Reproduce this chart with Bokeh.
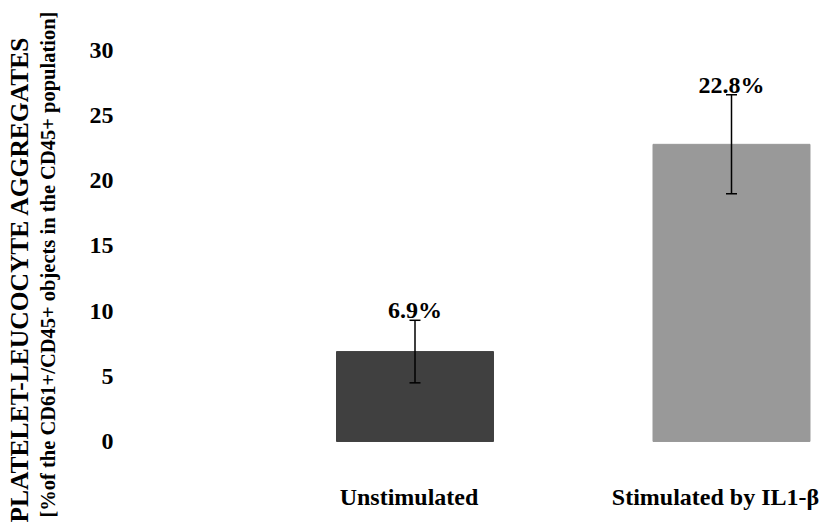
from bokeh.plotting import figure
from bokeh.models import ColumnDataSource, Whisker, TeeHead, FixedTicker, Range1d, Title
from bokeh.core.properties import value
from bokeh.embed import file_html
from bokeh.resources import INLINE

categories = ["Unstimulated", "Stimulated by IL1-\u03b2"]
values = [6.9, 22.8]
errors = [2.4, 3.8]
value_labels = ["6.9%", "22.8%"]
colors = ["#404040", "#999999"]
y_ticks = [0, 5, 10, 15, 20, 25, 30]
title_line1 = "PLATELET-LEUCOCYTE AGGREGATES"
title_line2 = "[%of the CD61+/CD45+ objects in the  CD45+ population]"

FONT = "Liberation Serif"
W, H = 824, 523
L = 125  # frame left
px_per_x = 316.5
x0_px = 414.5
px_per_y = 13.03
y0_px = 441
y30_px = 50

xs = list(range(len(categories)))
src = ColumnDataSource(dict(
    x=xs, top=values, color=colors,
    upper=[v + e for v, e in zip(values, errors)],
    lower=[v - e for v, e in zip(values, errors)],
    lab=value_labels,
))

p = figure(width=W, height=H, output_backend="svg", toolbar_location=None,
           x_range=Range1d((L - x0_px) / px_per_x, (W - x0_px) / px_per_x),
           y_range=Range1d(-(H - y0_px) / px_per_y, 30 + y30_px / px_per_y),
           min_border_left=L, min_border_right=0, min_border_top=0, min_border_bottom=0,
           x_axis_location=None)
p.outline_line_color = None
p.grid.visible = False
p.background_fill_color = "white"
p.border_fill_color = "white"

p.vbar(x="x", top="top", bottom=0, width=0.496, fill_color="color", line_color="color", source=src)

w = Whisker(base="x", upper="upper", lower="lower", source=src, line_color="black", line_width=1.5,
            level="overlay",
            upper_head=TeeHead(size=11, line_width=1.5, line_color="black"),
            lower_head=TeeHead(size=11, line_width=1.5, line_color="black"))
p.add_layout(w)

p.text(x="x", y="upper", text="lab", source=src, text_align="center", text_baseline="alphabetic",
       y_offset=-10, text_font=value(FONT), text_font_style="bold", text_font_size="24px",
       text_color="black")

p.text(x=[xs[0]], y=[0], text=[categories[0]], text_align="center", text_baseline="alphabetic",
       x_offset=-6, y_offset=56, text_font=value(FONT), text_font_style="bold",
       text_font_size="24px", text_color="black")
p.text(x=[xs[1]], y=[0], text=[categories[1]], text_align="center", text_baseline="alphabetic",
       x_offset=-16, y_offset=56, text_font=value(FONT), text_font_style="bold",
       text_font_size="24px", text_color="black")

ax = p.yaxis[0]
ax.ticker = FixedTicker(ticks=y_ticks)
ax.axis_line_color = None
ax.major_tick_line_color = None
ax.minor_tick_line_color = None
ax.major_tick_out = 0
ax.major_tick_in = 0
ax.major_label_standoff = 12
ax.major_label_text_font = FONT
ax.major_label_text_font_style = "bold"
ax.major_label_text_font_size = "24px"
ax.major_label_text_color = "black"
ax.axis_label = title_line2
ax.axis_label_standoff = 28
ax.axis_label_text_font = FONT
ax.axis_label_text_font_style = "bold"
ax.axis_label_text_font_size = "20.5px"
ax.axis_label_text_color = "black"

t1 = Title(text=title_line1, align="left", text_font=FONT, text_font_style="bold",
           text_font_size="25.5px", standoff=0, offset=1, text_color="black")
p.add_layout(t1, "left")

open("out.html", "w").write(file_html(p, INLINE))
